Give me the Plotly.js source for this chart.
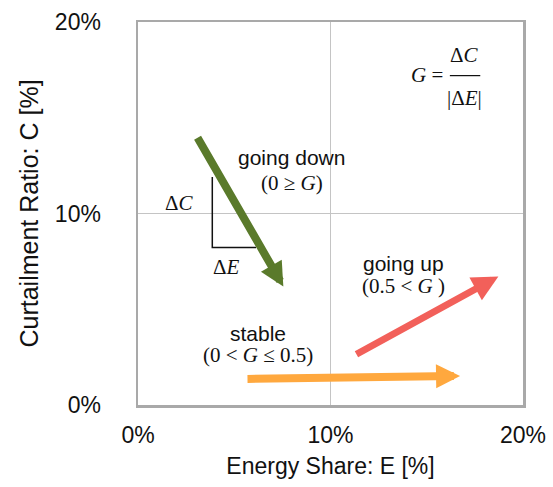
<!DOCTYPE html>
<html>
<head>
<meta charset="utf-8">
<script src="https://cdn.plot.ly/plotly-3.0.1.min.js"></script>
<style>html,body{margin:0;padding:0;background:#fff;}#chart{width:553px;height:487px;}</style>
</head>
<body>
<div id="chart"></div>
<script>
// ---- data ----
const tickVals = [0, 10, 20];
const tickText = ["0%", "10%", "20%"];

// trend arrows: start (E, C) -> end (E, C), in %
const arrowNames = ["going down", "going up", "stable"];
const arrowStartE = [3.05, 11.27, 5.61];
const arrowStartC = [14.03, 2.61, 1.36];
const arrowEndE = [7.55, 18.72, 16.73];
const arrowEndC = [6.19, 6.71, 1.52];
const arrowColors = ["#5a7a2b", "#f2605a", "#ffa83e"];
const arrowWidths = [8, 7, 8];
const arrowHeadScale = [0.6, 0.74, 0.6];

// slope triangle (ΔC, ΔE)
const triE = [3.86, 3.86, 6.13];
const triC = [11.9, 8.22, 8.22];

// labels
const labelText = [
  "going down", "(0 ≥ <i>G</i>)",
  "going up", "(0.5 &lt; <i>G</i> )",
  "stable", "(0 &lt; <i>G</i> ≤ 0.5)",
  "Δ<i>C</i>", "Δ<i>E</i>",
  "<i>G</i> =", "Δ<i>C</i>", "|Δ<i>E</i>|"
];
const labelE = [7.98, 7.98, 13.79, 13.79, 6.23, 6.23, 2.18, 4.6, 15.0, 16.98, 16.98];
const labelC = [12.95, 11.6, 7.41, 6.19, 3.76, 2.61, 10.54, 7.23, 17.22, 18.28, 16.05];
const labelSerif = [false, true, false, true, false, true, true, true, true, true, true];

// fraction bar of the formula (E range, C level)
const barE = [16.2, 17.78];
const barC = [17.2, 17.2];

// ---- build ----
const annotations = [];
for (let i = 0; i < arrowNames.length; i++) {
  annotations.push({
    x: arrowEndE[i], y: arrowEndC[i], xref: "x", yref: "y",
    ax: arrowStartE[i], ay: arrowStartC[i], axref: "x", ayref: "y",
    text: "", showarrow: true, arrowhead: 2,
    arrowsize: arrowHeadScale[i], arrowwidth: arrowWidths[i],
    arrowcolor: arrowColors[i], standoff: 0, startstandoff: 0
  });
}
for (let i = 0; i < labelText.length; i++) {
  annotations.push({
    x: labelE[i], y: labelC[i], xref: "x", yref: "y",
    text: labelText[i], showarrow: false,
    xanchor: "center", yanchor: "middle",
    font: labelSerif[i]
      ? {family: "Liberation Serif, Times New Roman, serif", size: 21, color: "#111"}
      : {family: "Liberation Sans, Arial, sans-serif", size: 21, color: "#111"}
  });
}

const traces = [
  {x: triE, y: triC, type: "scatter", mode: "lines",
   line: {color: "#111", width: 1.5}, hoverinfo: "skip", showlegend: false},
  {x: barE, y: barC, type: "scatter", mode: "lines",
   line: {color: "#111", width: 1.2}, hoverinfo: "skip", showlegend: false}
];

const axisCommon = {
  range: [0, 20], tickvals: tickVals, ticktext: tickText,
  showgrid: true, gridcolor: "#c4c4c4", gridwidth: 1.5,
  zeroline: false, showline: true, mirror: true,
  linecolor: "#a9a9a9", linewidth: 2.5, ticks: "",
  tickfont: {family: "Liberation Sans, Arial, sans-serif", size: 23, color: "#111"},
  fixedrange: true
};

const layout = {
  width: 553, height: 487,
  margin: {l: 138, r: 30, t: 22, b: 82, autoexpand: false},
  paper_bgcolor: "#fff", plot_bgcolor: "#fff",
  showlegend: false,
  xaxis: Object.assign({}, axisCommon, {
    ticklabelstandoff: 8,
    title: {text: "Energy Share: E [%]", standoff: 11,
      font: {family: "Liberation Sans, Arial, sans-serif", size: 23, color: "#111"}}
  }),
  yaxis: Object.assign({}, axisCommon, {
    ticklabelstandoff: 30,
    title: {text: "Curtailment Ratio: C [%]", standoff: 9,
      font: {family: "Liberation Sans, Arial, sans-serif", size: 25, color: "#111"}}
  }),
  annotations: annotations
};

Plotly.newPlot("chart", traces, layout, {staticPlot: true, displayModeBar: false});
</script>
</body>
</html>
